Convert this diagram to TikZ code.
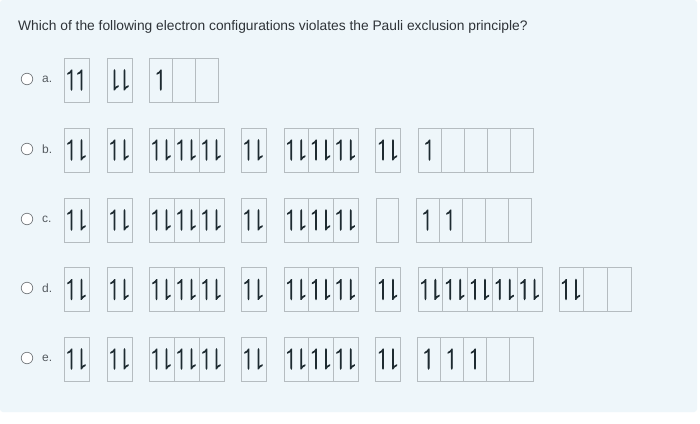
\documentclass[tikz,border=0pt]{standalone}
\usepackage{amssymb}
\usepackage{fontspec}
\setmainfont{Liberation Sans}
\definecolor{panel}{HTML}{EEF6FA}
\definecolor{cellline}{HTML}{B5BCC0}
\definecolor{ink}{HTML}{1E2B31}
\definecolor{qtext}{HTML}{2E3338}
\definecolor{lbl}{HTML}{555B60}
\newcommand{\thick}[1]{\special{pdf:literal direct 2 Tr 0.9 w}#1\special{pdf:literal direct 0 Tr}}
\newcommand{\hu}{\thick{\ensuremath{\upharpoonleft}}}
\newcommand{\hd}{\thick{\ensuremath{\downharpoonright}}}
\newcommand{\ud}{\hu\kern0.6pt\hd}
\tikzset{
  cell/.style={draw=cellline, line width=0.8pt, minimum height=44pt, inner sep=0pt,
    text=ink, font=\fontsize{22.5}{22.5}\selectfont},
  radio/.style={circle, draw=lbl!80, fill=white, line width=0.7pt, minimum size=11.5pt, inner sep=0pt},
  optlabel/.style={text=lbl, font=\fontsize{12}{14}\selectfont, anchor=west, inner sep=0pt},
}
\begin{document}
\begin{tikzpicture}[x=1pt,y=-1pt]
\useasboundingbox (0,0) rectangle (700,423);
\fill[white] (0,0) rectangle (700,423);
\fill[panel, rounded corners=3pt] (0,0) rectangle (697,412);
\node[anchor=west, inner sep=0pt, text=qtext, font=\fontsize{13.8}{16}\selectfont] (q) at (18,27)
  {Which of the following electron configurations violates the Pauli exclusion principle?};

% option a
\node[radio] (ra) at (27,79) {};
\node[optlabel] (la) at (42,79) {a.};
\node[cell, minimum width=25pt] (a1) at (76.5,80) {\hu\kern0.6pt\hu};
\node[cell, minimum width=25pt] (a2) at (119.5,80) {\hd\kern0.6pt\hd};
\node[cell, minimum width=23pt] (a3) at (160.8,80) {\hu};
\node[cell, minimum width=23pt] (a4) at (183.8,80) {};
\node[cell, minimum width=23pt] (a5) at (206.8,80) {};

% option b
\node[radio] (rb) at (27,149) {};
\node[optlabel] (lb) at (42,149) {b.};
\node[cell, minimum width=25pt] (b1) at (76.5,150) {\ud};
\node[cell, minimum width=25pt] (b2) at (119.5,150) {\ud};
\node[cell, minimum width=25pt] (b3) at (161.5,150) {\ud};
\node[cell, minimum width=25pt] (b4) at (186.5,150) {\ud};
\node[cell, minimum width=25pt] (b5) at (211.5,150) {\ud};
\node[cell, minimum width=25pt] (b6) at (253.5,150) {\ud};
\node[cell, minimum width=24.7pt] (b7) at (296.3,150) {\ud};
\node[cell, minimum width=24.7pt] (b8) at (321,150) {\ud};
\node[cell, minimum width=24.7pt] (b9) at (345.7,150) {\ud};
\node[cell, minimum width=25pt] (b10) at (388,150) {\ud};
\node[cell, minimum width=23pt] (b11) at (429.5,150) {\hu};
\node[cell, minimum width=23pt] (b12) at (452.5,150) {};
\node[cell, minimum width=23pt] (b13) at (475.5,150) {};
\node[cell, minimum width=23pt] (b14) at (498.5,150) {};
\node[cell, minimum width=23pt] (b15) at (521.5,150) {};

% option c
\node[radio] (rc) at (27,219) {};
\node[optlabel] (lc) at (42,219) {c.};
\node[cell, minimum width=25pt] (c1) at (76.5,220) {\ud};
\node[cell, minimum width=25pt] (c2) at (119.5,220) {\ud};
\node[cell, minimum width=25pt] (c3) at (161.5,220) {\ud};
\node[cell, minimum width=25pt] (c4) at (186.5,220) {\ud};
\node[cell, minimum width=25pt] (c5) at (211.5,220) {\ud};
\node[cell, minimum width=25pt] (c6) at (253.5,220) {\ud};
\node[cell, minimum width=24.7pt] (c7) at (296.3,220) {\ud};
\node[cell, minimum width=24.7pt] (c8) at (321,220) {\ud};
\node[cell, minimum width=24.7pt] (c9) at (345.7,220) {\ud};
\node[cell, minimum width=22pt] (c10) at (387,220) {};
\node[cell, minimum width=23pt] (c11) at (427.5,220) {\hu};
\node[cell, minimum width=23pt] (c12) at (450.5,220) {\hu};
\node[cell, minimum width=23pt] (c13) at (473.5,220) {};
\node[cell, minimum width=23pt] (c14) at (496.5,220) {};
\node[cell, minimum width=23pt] (c15) at (519.5,220) {};

% option d
\node[radio] (rd) at (27,288) {};
\node[optlabel] (ld) at (42,288) {d.};
\node[cell, minimum width=25pt] (d1) at (76.5,289.5) {\ud};
\node[cell, minimum width=25pt] (d2) at (119.5,289.5) {\ud};
\node[cell, minimum width=25pt] (d3) at (161.5,289.5) {\ud};
\node[cell, minimum width=25pt] (d4) at (186.5,289.5) {\ud};
\node[cell, minimum width=25pt] (d5) at (211.5,289.5) {\ud};
\node[cell, minimum width=25pt] (d6) at (253.5,289.5) {\ud};
\node[cell, minimum width=24.7pt] (d7) at (296.3,289.5) {\ud};
\node[cell, minimum width=24.7pt] (d8) at (321,289.5) {\ud};
\node[cell, minimum width=24.7pt] (d9) at (345.7,289.5) {\ud};
\node[cell, minimum width=25pt] (d10) at (388,289.5) {\ud};
\node[cell, minimum width=24.8pt] (d11) at (430.4,289.5) {\ud};
\node[cell, minimum width=24.8pt] (d12) at (455.2,289.5) {\ud};
\node[cell, minimum width=24.8pt] (d13) at (480,289.5) {\ud};
\node[cell, minimum width=24.8pt] (d14) at (504.8,289.5) {\ud};
\node[cell, minimum width=24.8pt] (d15) at (529.6,289.5) {\ud};
\node[cell, minimum width=24pt] (d16) at (571,289.5) {\ud};
\node[cell, minimum width=24pt] (d17) at (595,289.5) {};
\node[cell, minimum width=24pt] (d18) at (619,289.5) {};

% option e
\node[radio] (re) at (27,358) {};
\node[optlabel] (le) at (42,358) {e.};
\node[cell, minimum width=25pt] (e1) at (76.5,359) {\ud};
\node[cell, minimum width=25pt] (e2) at (119.5,359) {\ud};
\node[cell, minimum width=25pt] (e3) at (161.5,359) {\ud};
\node[cell, minimum width=25pt] (e4) at (186.5,359) {\ud};
\node[cell, minimum width=25pt] (e5) at (211.5,359) {\ud};
\node[cell, minimum width=25pt] (e6) at (253.5,359) {\ud};
\node[cell, minimum width=24.7pt] (e7) at (296.3,359) {\ud};
\node[cell, minimum width=24.7pt] (e8) at (321,359) {\ud};
\node[cell, minimum width=24.7pt] (e9) at (345.7,359) {\ud};
\node[cell, minimum width=25pt] (e10) at (388,359) {\ud};
\node[cell, minimum width=23.2pt] (e11) at (428.6,359) {\hu};
\node[cell, minimum width=23.2pt] (e12) at (451.8,359) {\hu};
\node[cell, minimum width=23.2pt] (e13) at (475,359) {\hu};
\node[cell, minimum width=23.2pt] (e14) at (498.2,359) {};
\node[cell, minimum width=23.2pt] (e15) at (521.4,359) {};
\end{tikzpicture}
\end{document}
